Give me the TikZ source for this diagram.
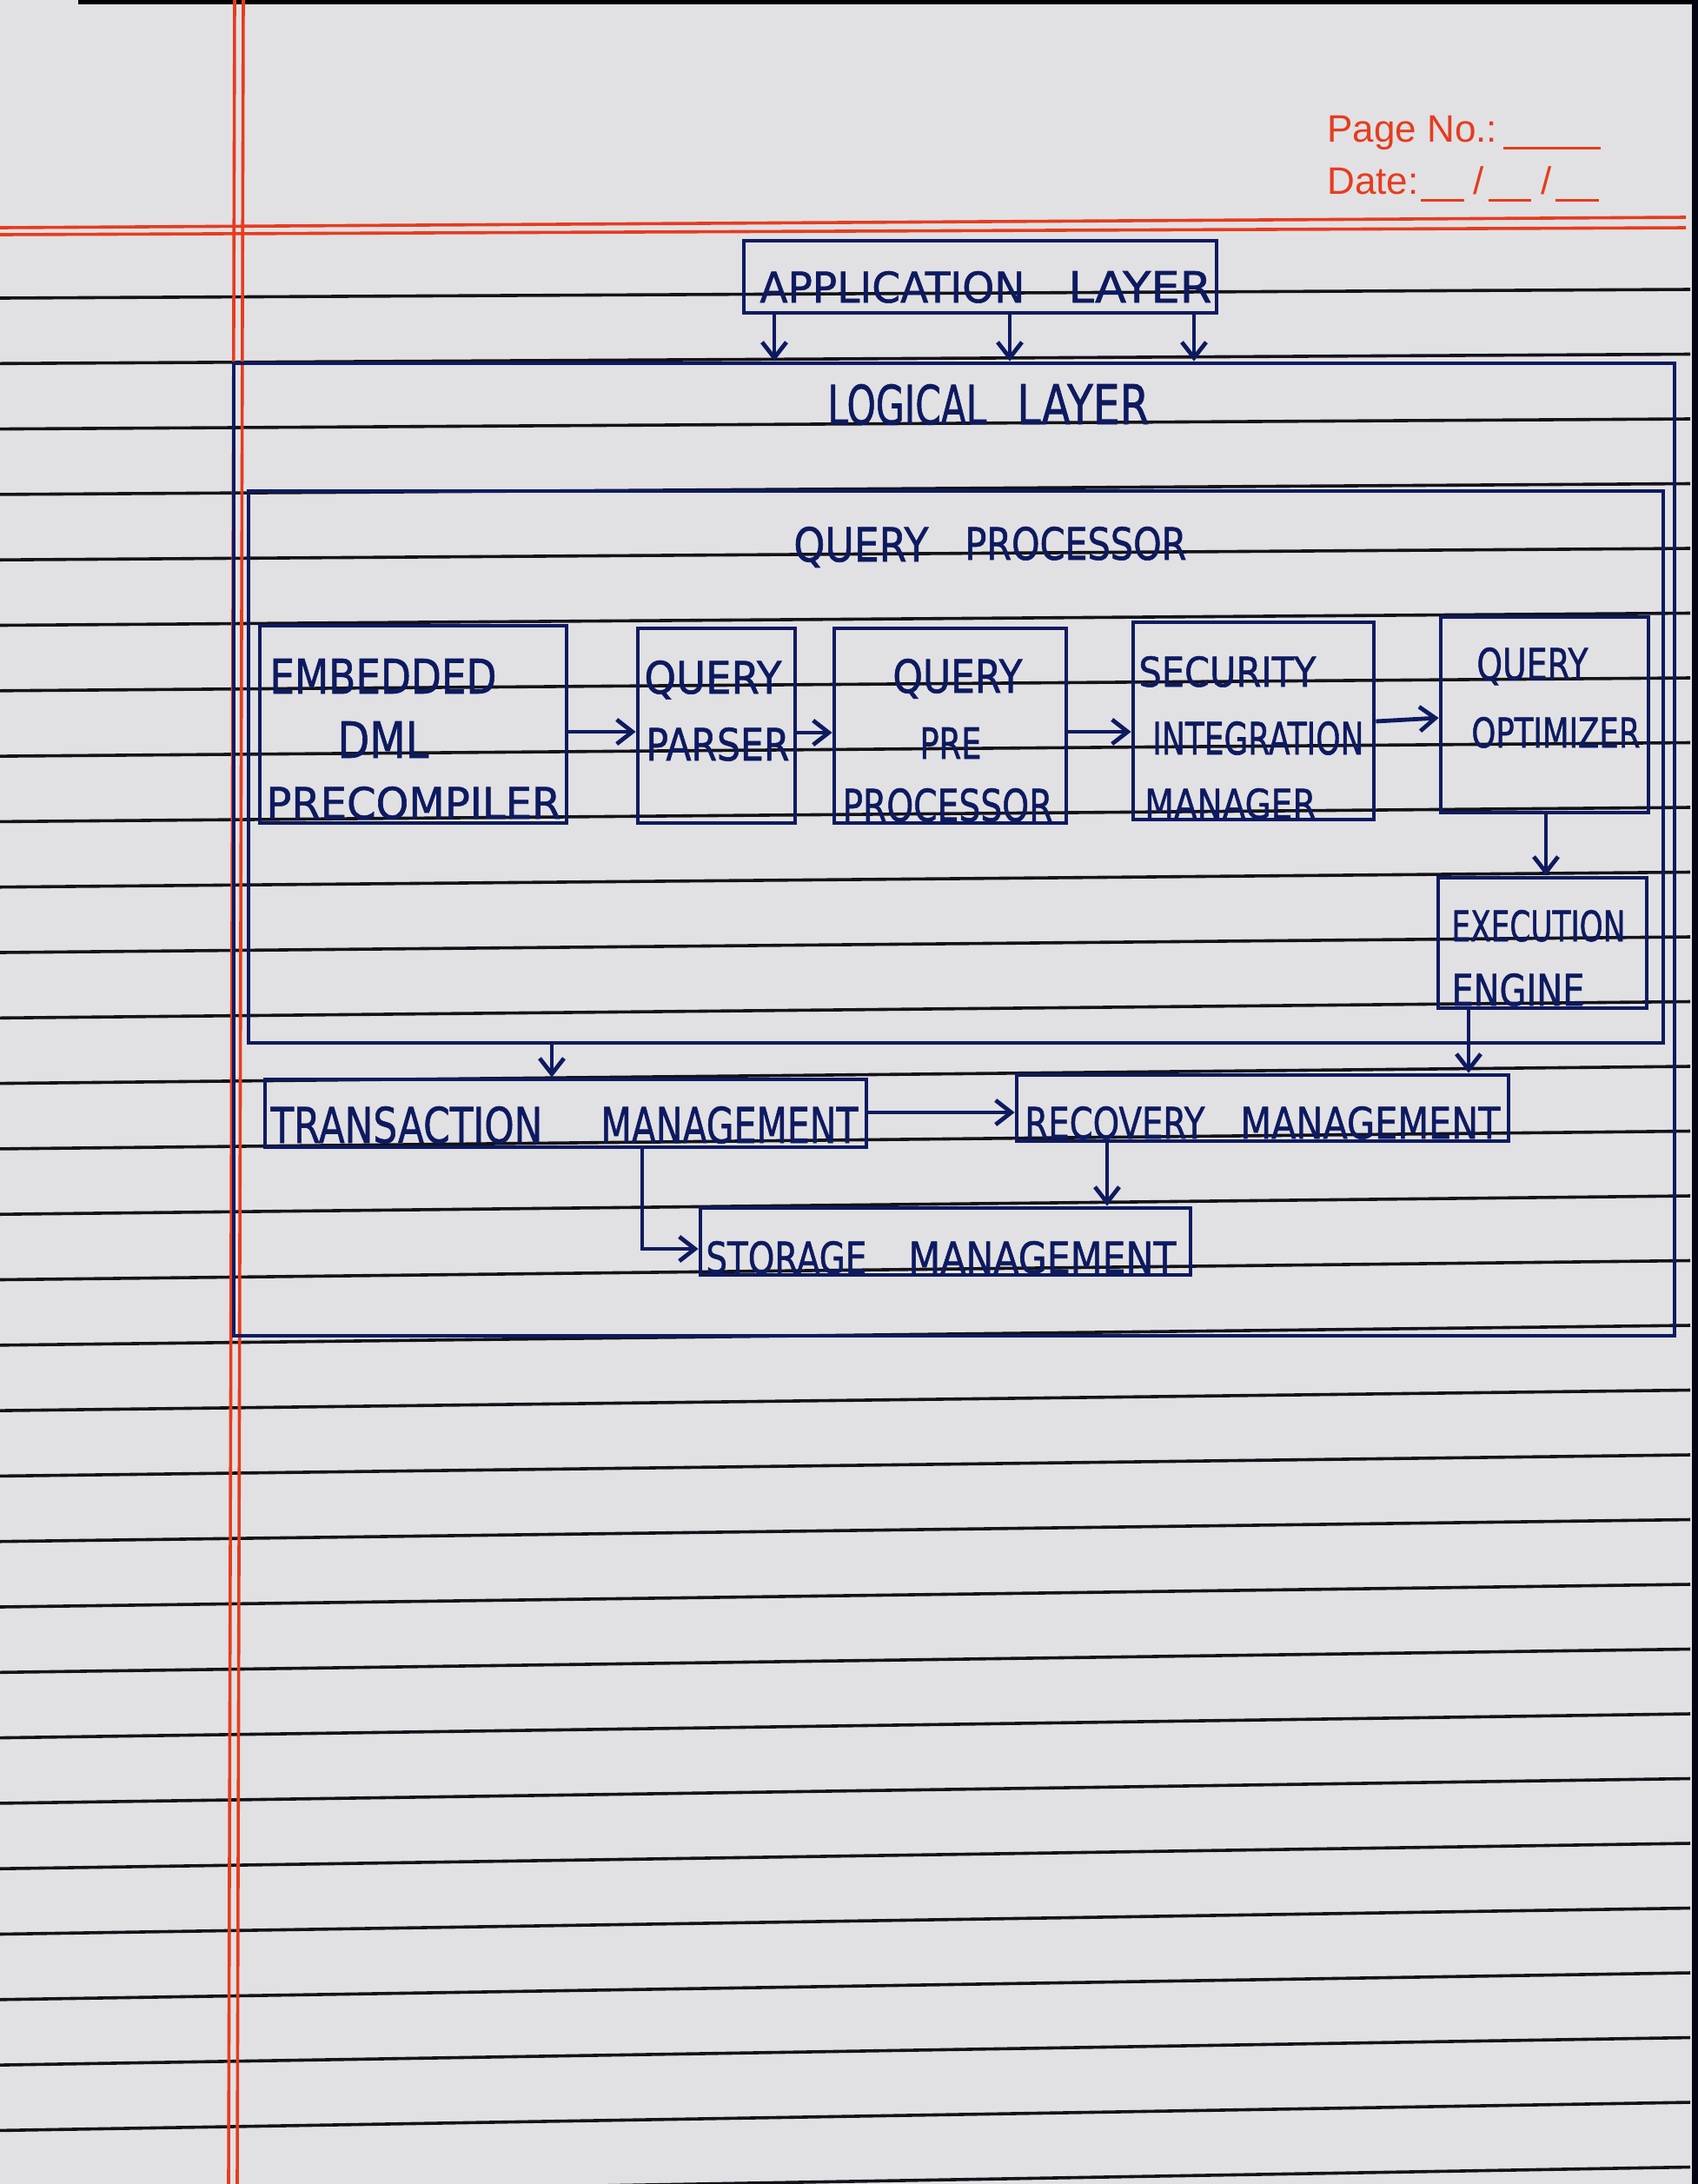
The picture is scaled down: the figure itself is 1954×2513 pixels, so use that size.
\documentclass[tikz,border=0pt]{standalone}
\usepackage{fontspec}
\usepackage{graphicx}
\usetikzlibrary{arrows.meta,fit}
\newfontfamily\hand{DejaVu Sans}[FakeBold=1.2]
\newfontfamily\stampfont{Liberation Sans}
\definecolor{ink}{RGB}{14,26,96}
\definecolor{paper}{RGB}{225,225,228}
\definecolor{ruleink}{RGB}{18,18,24}
\definecolor{marginred}{RGB}{230,60,30}
\newlength\upx \setlength\upx{0.5pt}
\newcommand\hw[3]{\resizebox{#1\upx}{#2\upx}{\hand #3}}
\begin{document}
\begin{tikzpicture}[x=0.5pt,y=-0.5pt,
  box/.style={draw=ink, line width=2.4pt, inner sep=0pt},
  arr/.style={draw=ink, line width=2.4pt, -{Straight Barb[length=9pt,width=14pt,line width=2.4pt]}},
  txt/.style={inner sep=0pt, anchor=base west, text=ink},
  ruleline/.style={draw=ruleink, line width=1.8pt},
  redline/.style={draw=marginred, line width=1.8pt},
  stamptxt/.style={inner sep=0pt, anchor=base west, text=marginred, font=\stampfont\fontsize{22}{26}\selectfont}]
% paper
\fill[paper] (0,0) rectangle (1954,2513);
\useasboundingbox (0,0) rectangle (1954,2513);
\fill[black] (90,0) rectangle (1954,5);
\fill[black!80!ink] (1947,0) rectangle (1954,2513);
% ruled lines
\foreach \k in {0,...,29}{
  \pgfmathsetmacro\yl{343+75.3*\k}
  \pgfmathsetmacro\yr{\yl-10-0.8*\k}
  \draw[ruleline] (0,\yl) -- (1945,\yr);
}
% margins
\draw[redline] (0,262) -- (1940,250);
\draw[redline] (0,270) -- (1940,262);
\draw[redline] (270,0) -- (263,2513);
\draw[redline] (280,0) -- (273,2513);
% page header
\node[stamptxt] (pageno) at (1527,163) {Page No.:};
\draw[marginred, line width=1.5pt] (1730,170) -- (1842,170);
\node[stamptxt] (date) at (1527,223) {Date:};
\draw[marginred, line width=1.5pt] (1635,230) -- (1685,230);
\node[stamptxt] (slash1) at (1695,223) {/};
\draw[marginred, line width=1.5pt] (1713,230) -- (1762,230);
\node[stamptxt] (slash2) at (1773,223) {/};
\draw[marginred, line width=1.5pt] (1790,230) -- (1840,230);

% boxes
\node[box, fit={(856,277) (1400,360)}] (app) {};
\node[box, fit={(269,418) (1927,1537)}] (logical) {};
\node[box, fit={(286,565) (1914,1200)}] (qp) {};
\node[box, fit={(299,720) (652,947)}] (emb) {};
\node[box, fit={(734,723) (915,947)}] (parser) {};
\node[box, fit={(960,723) (1227,947)}] (prep) {};
\node[box, fit={(1304,716) (1581,943)}] (sec) {};
\node[box, fit={(1658,710) (1897,935)}] (opt) {};
\node[box, fit={(1655,1010) (1895,1160)}] (exec) {};
\node[box, fit={(305,1242) (997,1320)}] (trans) {};
\node[box, fit={(1170,1237) (1736,1313)}] (rec) {};
\node[box, fit={(806,1390) (1370,1467)}] (stor) {};

% texts
\node[txt] (tApp1) at (874,348) {\hw{305}{36}{APPLICATION}};
\node[txt] (tApp2) at (1229,348) {\hw{165}{36}{LAYER}};
\node[txt] (tLog1) at (952,488) {\hw{183}{46}{LOGICAL}};
\node[txt] (tLog2) at (1170,488) {\hw{152}{46}{LAYER}};
\node[txt] (tQp1) at (913,646) {\hw{155}{40}{QUERY}};
\node[txt] (tQp2) at (1110,644) {\hw{255}{38}{PROCESSOR}};
\node[txt] (tEmb1) at (310,798) {\hw{261}{40}{EMBEDDED}};
\node[txt] (tEmb2) at (388,872) {\hw{105}{42}{DML}};
\node[txt] (tEmb3) at (306,942) {\hw{339}{37}{PRECOMPILER}};
\node[txt] (tPar1) at (741,798) {\hw{158}{38}{QUERY}};
\node[txt] (tPar2) at (743,875) {\hw{165}{38}{PARSER}};
\node[txt] (tPre1) at (1027,797) {\hw{149}{39}{QUERY}};
\node[txt] (tPre2) at (1058,873) {\hw{71}{36}{PRE}};
\node[txt] (tPre3) at (969,945) {\hw{242}{38}{PROCESSOR}};
\node[txt] (tSec1) at (1310,790) {\hw{204}{35}{SECURITY}};
\node[txt] (tSec2) at (1326,868) {\hw{243}{38}{INTEGRATION}};
\node[txt] (tSec3) at (1317,942) {\hw{197}{35}{MANAGER}};
\node[txt] (tOpt1) at (1699,782) {\hw{128}{37}{QUERY}};
\node[txt] (tOpt2) at (1693,860) {\hw{194}{35}{OPTIMIZER}};
\node[txt] (tExe1) at (1670,1083) {\hw{200}{36}{EXECUTION}};
\node[txt] (tExe2) at (1670,1157) {\hw{153}{37}{ENGINE}};
\node[txt] (tTra1) at (311,1315) {\hw{313}{42}{TRANSACTION}};
\node[txt] (tTra2) at (691,1315) {\hw{296}{42}{MANAGEMENT}};
\node[txt] (tRec1) at (1179,1310) {\hw{207}{37}{RECOVERY}};
\node[txt] (tRec2) at (1427,1310) {\hw{299}{37}{MANAGEMENT}};
\node[txt] (tSto1) at (812,1465) {\hw{185}{37}{STORAGE}};
\node[txt] (tSto2) at (1045,1465) {\hw{308}{37}{MANAGEMENT}};

% connectors
\draw[arr] (app.south -| 891,0) -- (logical.north -| 891,0);
\draw[arr] (app.south -| 1162,0) -- (logical.north -| 1162,0);
\draw[arr] (app.south -| 1374,0) -- (logical.north -| 1374,0);
\draw[arr] (emb.east |- 0,842) -- (parser.west |- 0,842);
\draw[arr] (parser.east |- 0,843) -- (prep.west |- 0,843);
\draw[arr] (prep.east |- 0,842) -- (sec.west |- 0,842);
\draw[arr] (sec.east |- 0,830) -- (opt.west |- 0,826);
\draw[arr] (opt.south -| 1779,0) -- (exec.north -| 1779,0);
\draw[arr] (exec.south -| 1690,0) -- (rec.north -| 1690,0);
\draw[arr] (qp.south -| 635,0) -- (trans.north -| 635,0);
\draw[arr] (trans.east |- 0,1280) -- (rec.west |- 0,1280);
\draw[arr] (trans.south -| 739,0) |- (stor.west |- 0,1437);
\draw[arr] (rec.south -| 1274,0) -- (stor.north -| 1274,0);
\end{tikzpicture}
\end{document}
